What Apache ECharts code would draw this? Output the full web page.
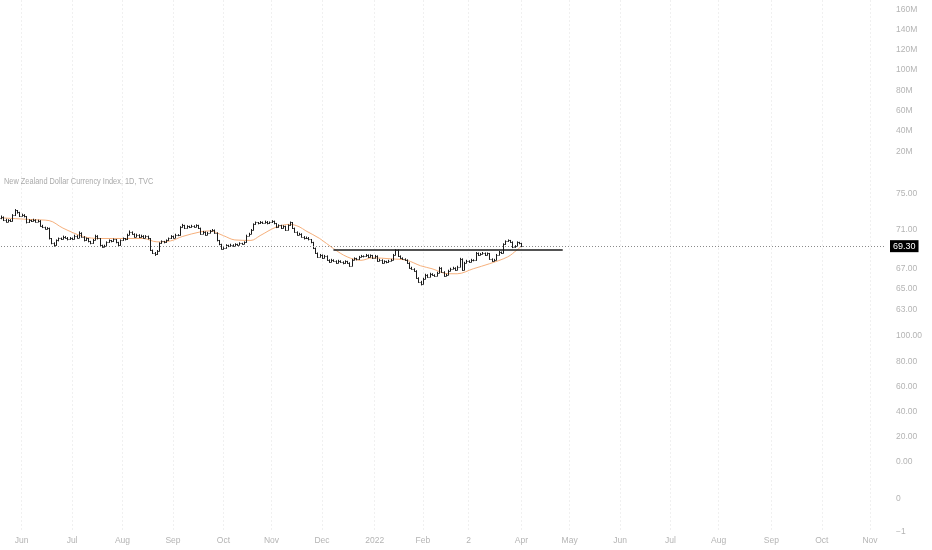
<!DOCTYPE html>
<html>
<head>
<meta charset="utf-8">
<script src="https://cdn.jsdelivr.net/npm/echarts@6/dist/echarts.min.js"></script>
<style>
html,body{margin:0;padding:0;background:#fff;}
#chart{width:932px;height:550px;}
</style>
</head>
<body>
<div id="chart"></div>
<script>
// ---- data ----
const startDate = '2021-05-19';
const endDate = '2022-11-10';
const title = 'New Zealand Dollar Currency Index, 1D, TVC';
const monthLabels = {'2021-06':'Jun','2021-07':'Jul','2021-08':'Aug','2021-09':'Sep','2021-10':'Oct','2021-11':'Nov','2021-12':'Dec','2022-01':'2022','2022-02':'Feb','2022-03':'2','2022-04':'Apr','2022-05':'May','2022-06':'Jun','2022-07':'Jul','2022-08':'Aug','2022-09':'Sep','2022-10':'Oct','2022-11':'Nov'};
const priceTicks = [63, 65, 67, 71, 75];
const volTicksMax = 160e6;

const opens = [
72.30,72.40,72.10,71.90,72.05,71.95,72.60,73.10,72.90,72.55,
72.60,72.45,71.80,72.05,71.95,72.10,71.90,72.00,71.45,71.30,
71.15,71.20,70.10,69.60,69.40,69.90,70.10,70.05,70.30,70.20,
70.00,70.15,70.05,70.40,70.20,70.70,70.30,69.90,70.10,69.80,
69.60,69.95,70.40,70.10,69.40,69.25,69.35,69.70,69.90,69.80,
70.00,69.70,69.40,69.90,70.10,70.00,70.50,70.80,70.60,70.30,
70.50,70.25,70.40,70.20,70.35,70.10,68.90,68.60,68.45,68.80,
69.60,69.80,69.70,69.90,70.10,70.35,70.20,70.50,70.45,71.30,
71.50,71.20,71.40,71.30,71.45,71.35,71.50,71.20,70.60,70.80,
70.50,70.70,70.90,71.00,70.70,69.90,69.50,69.05,69.10,69.40,
69.30,69.45,69.35,69.50,69.45,69.60,69.55,69.70,70.40,70.60,
71.00,71.60,71.80,71.70,71.85,71.75,71.90,71.70,71.80,71.95,
71.70,71.30,71.50,71.20,71.40,71.00,71.50,71.80,71.20,70.80,
70.50,70.60,70.30,70.10,70.20,70.00,69.70,69.10,68.60,68.20,
68.40,68.10,68.30,67.90,67.70,67.90,67.80,67.60,67.80,67.70,
67.55,67.75,67.60,67.30,67.90,68.05,67.95,68.20,68.30,68.25,
68.40,68.20,68.35,68.10,68.30,67.80,67.90,67.60,67.75,67.65,
67.80,67.90,68.40,68.90,68.30,68.10,68.00,67.90,67.60,67.10,
67.00,66.80,66.10,65.70,65.50,66.00,66.40,66.20,66.50,66.40,
66.30,66.60,67.10,66.70,66.30,66.40,66.80,67.00,67.10,66.90,
67.20,68.00,66.90,67.60,67.80,67.70,67.90,67.85,68.60,68.40,
68.50,68.60,68.40,68.55,68.00,67.80,67.90,68.40,68.70,68.60,
69.50,69.80,69.90,69.75,69.20,69.30,69.70,69.60
];
const highs = [
72.55,72.45,72.20,72.15,72.15,72.70,73.25,73.15,72.95,72.75,
72.70,72.50,72.15,72.10,72.20,72.15,72.10,72.05,71.55,71.35,
71.30,71.25,70.15,69.70,70.00,70.20,70.20,70.40,70.35,70.25,
70.25,70.20,70.50,70.45,70.85,70.75,70.35,70.20,70.15,69.85,
70.05,70.50,70.45,70.15,69.45,69.45,69.80,70.00,69.95,70.10,
70.05,69.75,70.00,70.20,70.15,70.60,70.95,70.85,70.65,70.60,
70.55,70.50,70.45,70.45,70.40,70.15,68.95,68.70,68.90,69.70,
69.90,69.85,70.00,70.20,70.45,70.40,70.60,70.55,71.40,71.65,
71.55,71.50,71.45,71.55,71.50,71.60,71.55,71.25,70.90,70.85,
70.80,71.00,71.10,71.05,70.75,69.95,69.55,69.20,69.50,69.45,
69.55,69.50,69.60,69.55,69.70,69.65,69.80,70.50,70.70,71.10,
71.70,71.90,71.85,71.95,71.90,72.00,71.95,71.90,72.05,72.00,
71.75,71.60,71.55,71.50,71.45,71.60,71.90,71.85,71.25,70.85,
70.70,70.65,70.35,70.30,70.25,70.05,69.75,69.15,68.65,68.50,
68.45,68.40,68.35,67.95,68.00,67.95,67.85,67.90,67.85,67.75,
67.85,67.80,67.65,68.00,68.15,68.10,68.30,68.40,68.35,68.50,
68.45,68.45,68.40,68.40,68.35,68.00,67.95,67.85,67.80,67.90,
68.00,68.50,68.98,68.95,68.35,68.15,68.05,67.95,67.65,67.20,
67.05,66.85,66.15,65.80,66.10,66.50,66.45,66.60,66.55,66.45,
66.70,67.20,67.15,66.75,66.50,66.90,67.10,67.20,67.15,67.30,
68.10,68.05,67.70,67.90,67.85,68.00,67.95,68.70,68.65,68.60,
68.70,68.65,68.65,68.60,68.05,68.00,68.50,68.80,68.75,69.60,
69.90,70.00,69.95,69.80,69.40,69.80,69.75,69.65
];
const lows = [
72.15,71.95,71.80,71.85,71.85,71.90,72.50,72.75,72.40,72.45,
72.35,71.70,71.75,71.85,71.90,71.80,71.85,71.35,71.20,71.05,
71.05,70.00,69.50,69.25,69.35,69.80,69.95,70.00,70.10,69.90,
69.95,69.95,70.00,70.10,70.15,70.20,69.80,69.85,69.70,69.50,
69.55,69.90,70.00,69.30,69.15,69.20,69.30,69.65,69.70,69.75,
69.60,69.30,69.35,69.85,69.90,69.95,70.45,70.50,70.20,70.25,
70.15,70.20,70.10,70.15,70.00,68.80,68.50,68.30,68.40,68.75,
69.55,69.60,69.65,69.85,70.05,70.10,70.15,70.35,70.40,71.25,
71.10,71.15,71.20,71.25,71.25,71.30,71.10,70.50,70.55,70.40,
70.45,70.65,70.85,70.60,69.80,69.40,68.95,68.95,69.05,69.20,
69.25,69.25,69.30,69.35,69.40,69.45,69.50,69.65,70.35,70.55,
70.95,71.55,71.60,71.65,71.65,71.70,71.60,71.65,71.75,71.60,
71.20,71.25,71.10,71.15,70.90,70.95,71.45,71.10,70.70,70.40,
70.45,70.20,70.00,70.05,69.90,69.60,69.00,68.50,68.10,68.15,
68.00,68.05,67.80,67.60,67.65,67.70,67.50,67.55,67.60,67.45,
67.50,67.50,67.20,67.25,67.85,67.85,67.90,68.15,68.15,68.20,
68.10,68.15,68.00,68.05,67.70,67.75,67.50,67.55,67.55,67.60,
67.75,67.85,68.35,68.20,68.00,67.90,67.80,67.50,67.00,66.90,
66.70,66.00,65.60,65.35,65.45,65.95,66.10,66.15,66.30,66.20,
66.25,66.55,66.60,66.20,66.25,66.35,66.75,66.95,66.80,66.85,
67.15,66.80,66.85,67.55,67.60,67.65,67.75,67.80,68.30,68.35,
68.45,68.30,68.35,67.90,67.70,67.75,67.85,68.35,68.50,68.55,
69.45,69.75,69.65,69.10,69.15,69.25,69.50,69.20
];
const closes = [
72.40,72.10,71.90,72.05,71.95,72.60,73.10,72.90,72.55,72.60,
72.45,71.80,72.05,71.95,72.10,71.90,72.00,71.45,71.30,71.15,
71.20,70.10,69.60,69.40,69.90,70.10,70.05,70.30,70.20,70.00,
70.15,70.05,70.40,70.20,70.70,70.30,69.90,70.10,69.80,69.60,
69.95,70.40,70.10,69.40,69.25,69.35,69.70,69.90,69.80,70.00,
69.70,69.40,69.90,70.10,70.00,70.50,70.80,70.60,70.30,70.50,
70.25,70.40,70.20,70.35,70.10,68.90,68.60,68.45,68.80,69.60,
69.80,69.70,69.90,70.10,70.35,70.20,70.50,70.45,71.30,71.50,
71.20,71.40,71.30,71.45,71.35,71.50,71.20,70.60,70.80,70.50,
70.70,70.90,71.00,70.70,69.90,69.50,69.05,69.10,69.40,69.30,
69.45,69.35,69.50,69.45,69.60,69.55,69.70,70.40,70.60,71.00,
71.60,71.80,71.70,71.85,71.75,71.90,71.70,71.80,71.95,71.70,
71.30,71.50,71.20,71.40,71.00,71.50,71.80,71.20,70.80,70.50,
70.60,70.30,70.10,70.20,70.00,69.70,69.10,68.60,68.20,68.40,
68.10,68.30,67.90,67.70,67.90,67.80,67.60,67.80,67.70,67.55,
67.75,67.60,67.30,67.90,68.05,67.95,68.20,68.30,68.25,68.40,
68.20,68.35,68.10,68.30,67.80,67.90,67.60,67.75,67.65,67.80,
67.90,68.40,68.90,68.30,68.10,68.00,67.90,67.60,67.10,67.00,
66.80,66.10,65.70,65.50,66.00,66.40,66.20,66.50,66.40,66.30,
66.60,67.10,66.70,66.30,66.40,66.80,67.00,67.10,66.90,67.20,
68.00,66.90,67.60,67.80,67.70,67.90,67.85,68.60,68.40,68.50,
68.60,68.40,68.55,68.00,67.80,67.90,68.40,68.70,68.60,69.50,
69.80,69.90,69.75,69.20,69.30,69.70,69.60,69.30
];
// moving average: [bar number, value]
const maPoints = [
[0,72.30],[14,72.10],[21,72.00],[27,71.20],[36,70.30],[43,70.10],[54,70.10],[62,70.10],
[68,69.75],[74,69.85],[79,70.30],[87,70.80],[91,70.90],[97,70.40],[102,69.95],[109,69.90],
[113,70.40],[120,71.30],[126,71.60],[130,71.35],[133,70.90],[139,70.10],[145,69.05],[151,68.20],
[157,67.85],[162,68.10],[170,68.00],[177,67.85],[183,67.30],[188,67.00],[195,66.50],[199,66.50],
[206,67.00],[213,67.50],[221,68.20],[225,68.90],[227,69.30]
];
const levelLine = {from:'2021-12-08', to:'2022-04-27', value:68.98};

// ---- build ----
function businessDays(a, b){
  const out = [];
  const d = new Date(a + 'T00:00:00Z');
  const e = new Date(b + 'T00:00:00Z');
  while (d <= e){
    const w = d.getUTCDay();
    if (w > 0 && w < 6) out.push(d.toISOString().slice(0,10));
    d.setUTCDate(d.getUTCDate() + 1);
  }
  return out;
}
const cats = businessDays(startDate, endDate);
function isMonthStart(i){ return i > 0 && cats[i].slice(0,7) !== cats[i-1].slice(0,7); }
const ohlc = closes.map((c, i) => [i, opens[i], highs[i], lows[i], c]);
const lastPrice = closes[closes.length - 1];

const FONT = '"Liberation Sans",Arial,sans-serif';
const LBL = '#b4b4b4';
const L = 1, R = 46;

function hiddenX(gi){
  return {type:'category', gridIndex:gi, data:cats, boundaryGap:false, show:false};
}
function yAx(gi, min, max, interval, fmt){
  return {type:'value', gridIndex:gi, min:min, max:max, interval:interval, position:'right',
    axisLine:{show:false}, axisTick:{show:false}, splitLine:{show:false},
    axisLabel:{show:true, margin:10, color:LBL, fontSize:8.5, fontFamily:FONT, formatter:fmt}};
}

const option = {
  animation:false,
  backgroundColor:'#ffffff',
  graphic:[
    {type:'text', x:4, y:177, scaleX:0.82, silent:true,
      style:{text:title, fill:'#aaaaaa', font:'9px "Liberation Sans", Arial, sans-serif'}}
  ],
  grid:[
    {left:L, right:R, top:0, height:532},
    {left:L, right:R, top:9.3, height:162.2},
    {left:L, right:R, top:175.7, height:155.8},
    {left:L, right:R, top:336, height:126},
    {left:L, right:R, top:465, height:66.6}
  ],
  xAxis:[
    {type:'category', gridIndex:0, data:cats, boundaryGap:false,
      axisLine:{show:false}, axisTick:{show:false},
      axisLabel:{interval:(i)=>isMonthStart(i), margin:4, color:LBL, fontSize:8.5, fontFamily:FONT,
        formatter:(v)=>monthLabels[v.slice(0,7)] || ''},
      splitLine:{show:true, interval:(i)=>isMonthStart(i), lineStyle:{color:'#f0f0f0', type:[2,2], width:1}}},
    hiddenX(1), hiddenX(2), hiddenX(3), hiddenX(4)
  ],
  yAxis:[
    {type:'value', gridIndex:0, show:false, min:0, max:1},
    yAx(1, 0, volTicksMax, 20e6, v => v === 0 ? '' : (v/1e6) + 'M'),
    {type:'log', logBase:10, gridIndex:2, min:61, max:77, position:'right',
      axisLine:{show:false}, axisTick:{show:false}, splitLine:{show:false}, minorTick:{show:false},
      axisLabel:{show:true, customValues:priceTicks, margin:10, color:LBL, fontSize:8.5, fontFamily:FONT,
        formatter:v => Number(v).toFixed(2)}},
    yAx(3, 0, 100, 20, v => v.toFixed(2)),
    yAx(4, -1, 1, 1, v => v === 0 ? '0' : (v === -1 ? '\u22121' : ''))
  ],
  series:[
    {type:'line', name:'MA', xAxisIndex:2, yAxisIndex:2, data:maPoints, smooth:0.35,
      symbol:'none', z:1, lineStyle:{color:'#f6b07c', width:1},
      markLine:{silent:true, symbol:'none', animation:false, data:[
        {yAxis:lastPrice, lineStyle:{type:[1,2], color:'#8a8a8a', width:1},
          label:{show:true, position:'end', distance:4, formatter:()=>lastPrice.toFixed(2),
            backgroundColor:'#000', color:'#fff', padding:[2,3,1,3], fontSize:9, fontFamily:FONT}},
        [{coord:[levelLine.from, levelLine.value], lineStyle:{type:'solid', color:'#1a1a1a', width:1.6}, label:{show:false}},
         {coord:[levelLine.to, levelLine.value]}]
      ]}},
    {type:'custom', name:'NZD', xAxisIndex:2, yAxisIndex:2, data:ohlc, z:3,
      encode:{x:0, y:[1,2,3,4]},
      renderItem:function(params, api){
        const x = api.value(0);
        const o = api.coord([x, api.value(1)]);
        const h = api.coord([x, api.value(2)]);
        const l = api.coord([x, api.value(3)]);
        const c = api.coord([x, api.value(4)]);
        const px = Math.round(h[0]) + 0.5;
        const st = {stroke:'#1a1a1a', lineWidth:1};
        return {type:'group', children:[
          {type:'line', shape:{x1:px, y1:h[1], x2:px, y2:l[1]}, style:st},
          {type:'line', shape:{x1:px-1, y1:Math.round(o[1])+0.5, x2:px, y2:Math.round(o[1])+0.5}, style:st},
          {type:'line', shape:{x1:px, y1:Math.round(c[1])+0.5, x2:px+1, y2:Math.round(c[1])+0.5}, style:st}
        ]};
      }}
  ]
};
const chart = echarts.init(document.getElementById('chart'), null, {renderer:'canvas'});
chart.setOption(option);
</script>
</body>
</html>
